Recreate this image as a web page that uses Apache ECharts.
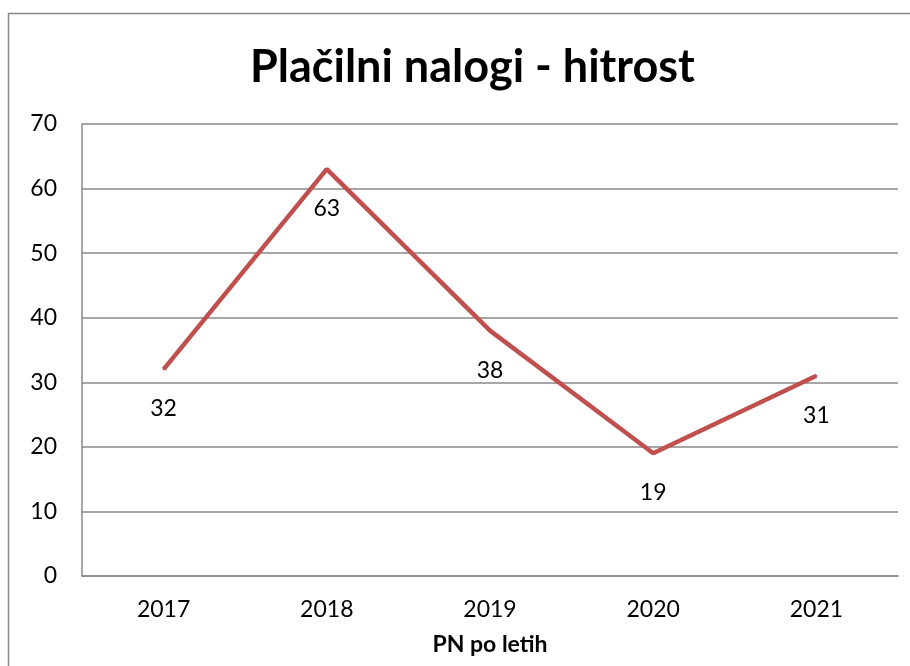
<!DOCTYPE html>
<html>
<head>
<meta charset="utf-8">
<script src="https://cdn.jsdelivr.net/npm/echarts@6/dist/echarts.min.js"></script>
<style>
  html, body { margin: 0; padding: 0; background: #fff; }
  #chart { width: 910px; height: 666px; }
</style>
</head>
<body>
<div id="chart"></div>
<script>
const years = ['2017', '2018', '2019', '2020', '2021']
const values = [32, 63, 38, 19, 31]
const yTicks = { min: 0, max: 70, interval: 10 }

const font = 'Lato, "Open Sans", sans-serif'
const chart = echarts.init(document.getElementById('chart'))

chart.setOption({
  backgroundColor: '#fff',
  animation: false,
  title: {
    text: 'Plačilni nalogi - hitrost',
    left: 245,
    top: 40,
    textStyle: { fontFamily: font, fontSize: 45, fontWeight: 'bold', color: '#000' }
  },
  graphic: [
    {
      type: 'rect',
      shape: { x: 8.5, y: 13.5, width: 920, height: 700 },
      style: { fill: 'none', stroke: '#888', lineWidth: 1.5 }
    }
  ],
  grid: { left: 82, right: 12, top: 124, bottom: 90 },
  xAxis: {
    type: 'category',
    data: years,
    boundaryGap: true,
    name: 'PN po letih',
    nameLocation: 'middle',
    nameGap: 57,
    nameTextStyle: { fontFamily: font, fontSize: 23, fontWeight: 'bold', color: '#000' },
    axisLine: { lineStyle: { color: '#888', width: 1.5 } },
    axisTick: { show: false },
    axisLabel: { fontFamily: font, fontSize: 23, color: '#000', margin: 22 }
  },
  yAxis: {
    type: 'value',
    min: yTicks.min,
    max: yTicks.max,
    interval: yTicks.interval,
    axisLine: { show: true, lineStyle: { color: '#888', width: 1.5 } },
    axisTick: { show: false },
    axisLabel: { fontFamily: font, fontSize: 23, color: '#000', margin: 25 },
    splitLine: { lineStyle: { color: '#888', width: 1.5 } }
  },
  series: [
    {
      type: 'line',
      data: values,
      symbol: 'circle',
      symbolSize: 2,
      showSymbol: true,
      itemStyle: { color: '#C0504D' },
      lineStyle: { color: '#C0504D', width: 4.5 },
      label: {
        show: true,
        position: 'bottom',
        distance: 27,
        fontFamily: font,
        fontSize: 23,
        color: '#000'
      }
    }
  ]
})
</script>
</body>
</html>
